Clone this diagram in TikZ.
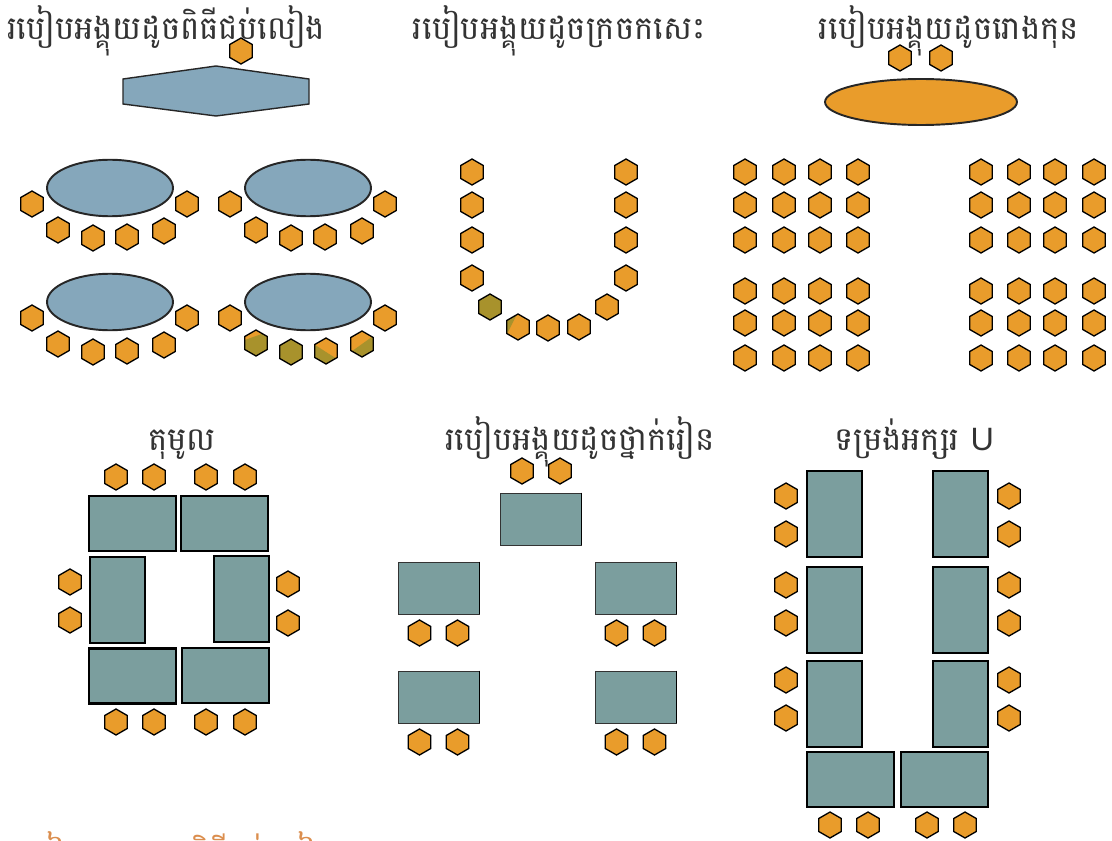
\documentclass[tikz,border=0pt]{standalone}
\usepackage{fontspec}
\newfontfamily\khmerfont[Script=Khmer]{Battambang}
\newfontfamily\latinfont{Liberation Sans}
\usepackage{tikz}
\usetikzlibrary{shapes.geometric}
\usepackage{xcolor}
\definecolor{seatorange}{HTML}{E99C2B}
\definecolor{seatolive}{HTML}{A8922C}
\definecolor{tableblue}{HTML}{85A7BB}
\definecolor{tableteal}{HTML}{7B9E9E}
\definecolor{titlegray}{HTML}{333333}
\definecolor{fadedorange}{HTML}{DB8E4E}

\begin{document}
\begin{tikzpicture}[
  x=0.02cm, y=-0.02cm,
  seat/.style={regular polygon, regular polygon sides=6, shape border rotate=30,
    minimum size=0.52cm, inner sep=0pt, draw=black, line width=0.75pt, fill=seatorange},
  seatfull/.style={seat, fill=seatolive},
  seatcut/.style={seat, path picture={\fill[seatolive] #1;}},
  round/.style={ellipse, minimum width=2.52cm, minimum height=1.13cm, inner sep=0pt,
    draw=black!85, line width=1.1pt, fill=tableblue},
  widetable/.style={rectangle, minimum width=1.74cm, minimum height=1.1cm, inner sep=0pt,
    draw=black, line width=1.3pt, fill=tableteal},
  talltable/.style={widetable, minimum width=1.1cm, minimum height=1.72cm},
  desk/.style={rectangle, minimum width=1.62cm, minimum height=1.04cm, inner sep=0pt,
    draw=black!80, line width=0.4pt, fill=tableteal},
  title/.style={font=\khmerfont\fontsize{18.4}{22}\selectfont, text=titlegray,
    anchor=base, inner sep=0pt}
]
  \useasboundingbox (0, 0) rectangle (1112, 841);

  % Titles
  \node[title] (banquettitle) at (166, 40) {របៀបអង្គុយដូចពិធីជប់លៀង};
  \node[title] (horseshoetitle) at (559, 40) {របៀបអង្គុយដូចក្រចកសេះ};
  \node[title] (theatretitle) at (949, 40) {របៀបអង្គុយដូចរោងកុន};
  \node[title] (squaretitle) at (182, 450) {តុមូល};
  \node[title] (classtitle) at (580, 450) {របៀបអង្គុយដូចថ្នាក់រៀន};
  \node[title] (utitle) at (914, 450) {ទម្រង់អក្សរ {\latinfont U}};
  \node[title, text=fadedorange] (bottomtitle) at (176, 865) {របៀបអង្គុយដូចពិធីជប់លៀង};

  % Banquet: head table
  \draw[draw=black!85, line width=0.8pt, fill=tableblue]
    (123, 79) -- (216, 66) -- (309, 79) -- (309, 104) -- (216, 116) -- (123, 104) -- cycle;
  \node[seat] (head) at (241, 51) {};

  % Banquet: round tables
  \foreach \cx/\cy/\name in {110/188/a, 308/188/b, 110/302/c, 308/302/d} {
    \node[round] (round\name) at (\cx, \cy) {};
  }
  \foreach \cx/\cy/\name in {110/188/a, 308/188/b, 110/302/c} {
    \foreach \dx/\dy/\i in {-78/16/1, -52/42/2, -17/50/3, 17/49/4, 54/43/5, 77/16/6} {
      \node[seat] (guest\name\i) at (\cx+\dx, \cy+\dy) {};
    }
  }
  \node[seat] (guestd1) at (230, 318) {};
  \node[seat] (guestd6) at (385, 318) {};
  \node[seatcut={(-14,-2) -- (14,-12) -- (14,16) -- (-14,16) -- cycle}] (guestd2) at (256, 343) {};
  \node[seatfull] (guestd3) at (291, 352) {};
  \node[seatcut={(-14,-8) -- (14,10) -- (14,16) -- (-14,16) -- cycle}] (guestd4) at (326, 351) {};
  \node[seatcut={(-14,10) -- (14,-10) -- (14,16) -- (-14,16) -- cycle}] (guestd5) at (362, 344) {};

  % Horseshoe
  \foreach \x/\y/\i in {472/172/1, 472/205/2, 472/240/3, 472/278/4, 548/328/5, 579/327/6,
    607/307/7, 626/278/8, 626/240/9, 626/205/10, 626/172/11} {
    \node[seat] (shoe\i) at (\x, \y) {};
  }
  \node[seatfull] (shoe12) at (490, 307) {};
  \node[seatcut={(0,-15) -- (-14,13) -- (-14,-15) -- cycle}] (shoe13) at (518, 327) {};

  % Theatre
  \node[round, fill=seatorange, minimum width=3.84cm, minimum height=0.92cm] (stage) at (921, 102) {};
  \node[seat] (front1) at (900, 58) {};
  \node[seat] (front2) at (941, 58) {};
  \foreach \x in {745, 784, 820, 858, 981, 1019, 1055, 1094} {
    \foreach \y in {172, 205, 240, 291, 323, 358} {
      \node[seat] (row\x-\y) at (\x, \y) {};
    }
  }

  % Square of tables
  \node[widetable] (sqa) at (132.5, 523.5) {};
  \node[widetable] (sqb) at (224.5, 523.5) {};
  \node[talltable] (sqc) at (117.5, 600) {};
  \node[talltable] (sqd) at (241.5, 599) {};
  \node[widetable] (sqe) at (132.5, 676) {};
  \node[widetable] (sqf) at (225.5, 675.5) {};
  \foreach \x in {116, 154, 206, 245} {
    \node[seat] (sqtop\x) at (\x, 477) {};
    \node[seat] (sqbot\x) at (\x, 722) {};
  }
  \node[seat] (sql1) at (70, 582) {};
  \node[seat] (sql2) at (70, 620) {};
  \node[seat] (sqr1) at (288, 584) {};
  \node[seat] (sqr2) at (288, 623) {};

  % Classroom
  \node[desk] (teacher) at (540.5, 519) {};
  \draw[line width=0.9pt] (teacher.north east) -- (teacher.south east);
  \node[seat] (teach1) at (522, 471) {};
  \node[seat] (teach2) at (560, 471) {};
  \foreach \cx/\cy/\name in {438.5/588/a, 635.5/588/b, 438.5/697/c, 635.5/697/d} {
    \node[desk] (desk\name) at (\cx, \cy) {};
    \draw[line width=0.9pt] (desk\name.north east) -- (desk\name.south east);
    \node[seat] (pupil\name1) at (\cx-19, \cy+45) {};
    \node[seat] (pupil\name2) at (\cx+19, \cy+45) {};
  }

  % U shape
  \foreach \y/\i in {514/1, 610/2, 704/3} {
    \node[talltable] (ul\i) at (834.5, \y) {};
    \node[talltable] (ur\i) at (960.5, \y) {};
  }
  \foreach \y in {496, 534, 585, 623, 680, 718} {
    \node[seat] (uleft\y) at (786, \y) {};
    \node[seat] (uright\y) at (1009, \y) {};
  }
  \node[widetable] (ubl) at (850.5, 779.5) {};
  \node[widetable] (ubr) at (944.5, 779.5) {};
  \foreach \x in {830, 868, 927, 965} {
    \node[seat] (ubot\x) at (\x, 825) {};
  }
\end{tikzpicture}
\end{document}
